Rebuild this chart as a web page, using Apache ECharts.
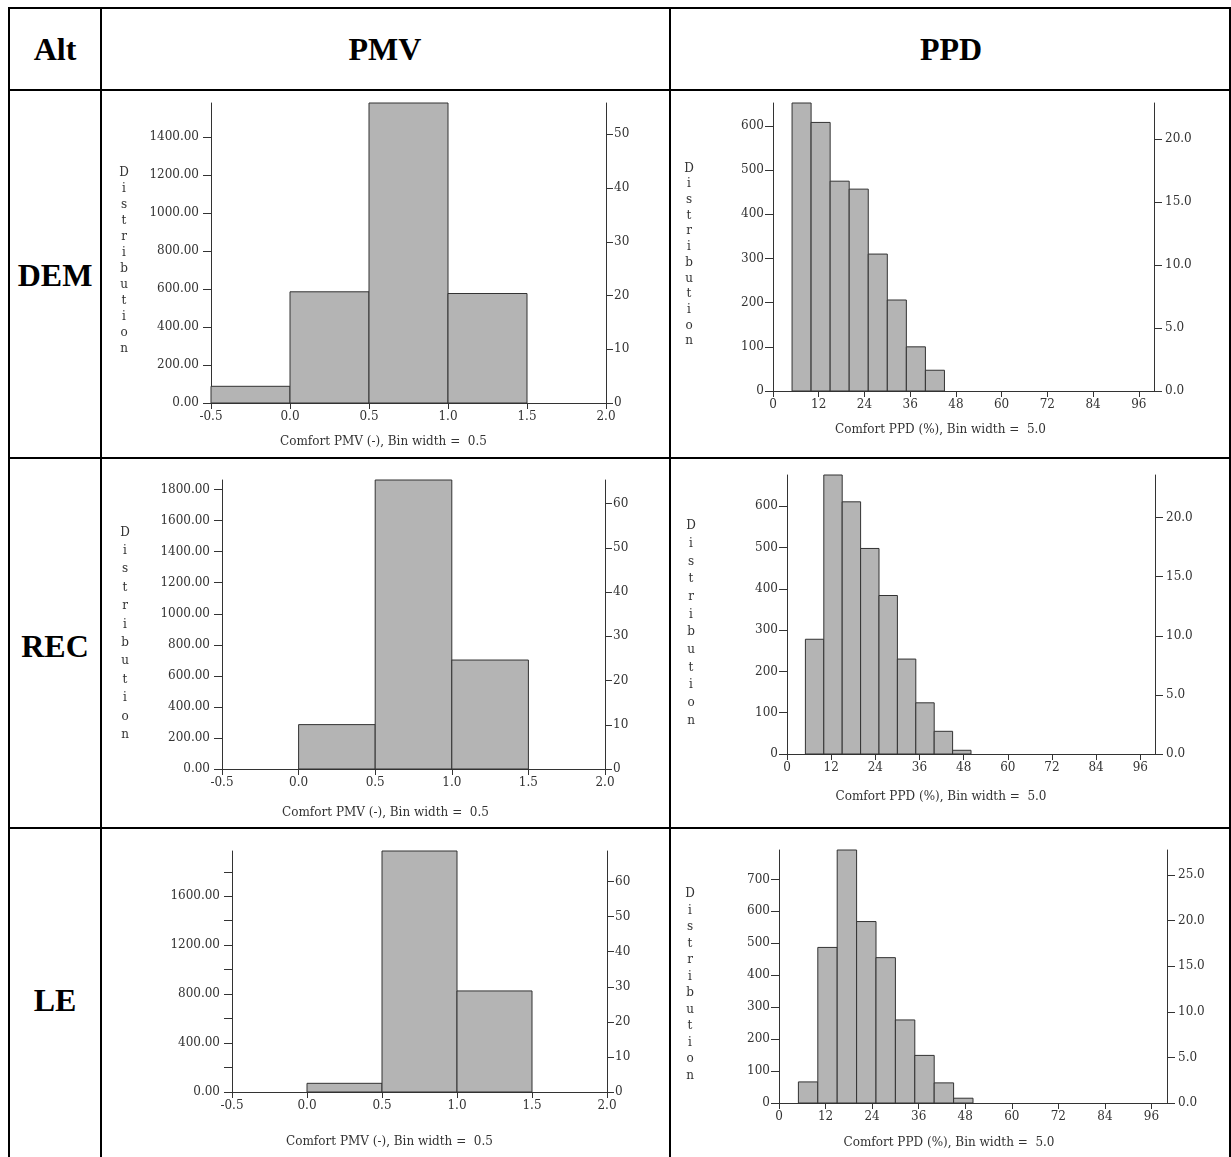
<!DOCTYPE html>
<html><head><meta charset="utf-8">
<script src="https://cdn.jsdelivr.net/npm/echarts@6/dist/echarts.min.js"></script>
<style>
html,body{margin:0;padding:0;background:#fff;}
#wrap{position:relative;width:1231px;height:1157px;overflow:hidden;background:#fff;}
#chart{position:absolute;left:0;top:0;width:1231px;height:1157px;}
.ln{position:absolute;background:#000;}
.t{position:absolute;font-family:"Liberation Serif","Times New Roman",serif;font-weight:bold;font-size:32px;color:#000;transform:translate(-50%,-50%);white-space:nowrap;line-height:1;}
</style></head>
<body><div id="wrap">
<div class="ln" style="left:8px;top:7px;width:1223px;height:2px"></div>
<div class="ln" style="left:8px;top:89px;width:1223px;height:2px"></div>
<div class="ln" style="left:8px;top:457px;width:1223px;height:2px"></div>
<div class="ln" style="left:8px;top:827px;width:1223px;height:2px"></div>
<div class="ln" style="left:8px;top:7px;width:1.5px;height:1150px"></div>
<div class="ln" style="left:100px;top:7px;width:1.5px;height:1150px"></div>
<div class="ln" style="left:669px;top:7px;width:1.5px;height:1150px"></div>
<div class="ln" style="left:1229px;top:7px;width:1.5px;height:1150px"></div>
<div class="t" style="left:55px;top:49px">Alt</div>
<div class="t" style="left:385px;top:49px">PMV</div>
<div class="t" style="left:951px;top:49px">PPD</div>
<div class="t" style="left:55px;top:275px">DEM</div>
<div class="t" style="left:55px;top:646px">REC</div>
<div class="t" style="left:55px;top:1000px">LE</div>
<div id="chart"></div>
</div>
<script>
// ---------- data ----------
const pmvBinEdges = [-0.5, 0.0, 0.5, 1.0, 1.5];
const ppdBinEdges = [5, 10, 15, 20, 25, 30, 35, 40, 45, 50];

const demPmvCounts = [88, 586, 1581, 577];
const recPmvCounts = [0, 286, 1862, 702];
const lePmvCounts  = [0, 71, 1970, 826];

const demPpdCounts = [652, 608, 475, 457, 310, 206, 100, 47, 0];
const recPpdCounts = [278, 676, 611, 498, 384, 230, 124, 55, 9];
const lePpdCounts  = [66, 487, 792, 568, 455, 260, 149, 63, 15];

const pmvXTicks = [-0.5, 0.0, 0.5, 1.0, 1.5, 2.0];
const ppdXTicks = [0, 12, 24, 36, 48, 60, 72, 84, 96];

const demPmvLeftTicks = [0, 200, 400, 600, 800, 1000, 1200, 1400];
const recPmvLeftTicks = [0, 200, 400, 600, 800, 1000, 1200, 1400, 1600, 1800];
const lePmvLeftTicks  = [0, 200, 400, 600, 800, 1000, 1200, 1400, 1600, 1800];
const lePmvLeftLabels = [0, 400, 800, 1200, 1600];
const demPmvRightTicks = [0, 10, 20, 30, 40, 50];
const recPmvRightTicks = [0, 10, 20, 30, 40, 50, 60];
const lePmvRightTicks  = [0, 10, 20, 30, 40, 50, 60];

const demPpdLeftTicks = [0, 100, 200, 300, 400, 500, 600];
const recPpdLeftTicks = [0, 100, 200, 300, 400, 500, 600];
const lePpdLeftTicks  = [0, 100, 200, 300, 400, 500, 600, 700];
const demPpdRightTicks = [0, 5, 10, 15, 20];
const recPpdRightTicks = [0, 5, 10, 15, 20];
const lePpdRightTicks  = [0, 5, 10, 15, 20, 25];

const pmvXTitle = 'Comfort PMV (-), Bin width =  0.5';
const ppdXTitle = 'Comfort PPD (%), Bin width =  5.0';
const yTitle = 'Distribution';

// ---------- layout / style ----------
const FONT = '"DejaVu Serif", "Liberation Serif", serif';
const panels = [
  {kind:'pmv', edges:pmvBinEdges, counts:demPmvCounts, xTicks:pmvXTicks, lTicks:demPmvLeftTicks, lLabels:demPmvLeftTicks, rTicks:demPmvRightTicks,
   grid:{left:211, top:103, width:395, height:300}, yGap:87, yLH:16, xGap:39, xShift:25, showY:true},
  {kind:'pmv', edges:pmvBinEdges, counts:recPmvCounts, xTicks:pmvXTicks, lTicks:recPmvLeftTicks, lLabels:recPmvLeftTicks, rTicks:recPmvRightTicks,
   grid:{left:222, top:480, width:383, height:289}, yGap:97, yLH:18.4, xGap:44, xShift:28, showY:true},
  {kind:'pmv', edges:pmvBinEdges, counts:lePmvCounts, xTicks:pmvXTicks, lTicks:lePmvLeftTicks, lLabels:lePmvLeftLabels, rTicks:lePmvRightTicks,
   grid:{left:232, top:851, width:375, height:241}, yGap:100, yLH:16, xGap:50, xShift:30, showY:false},
  {kind:'ppd', edges:ppdBinEdges, counts:demPpdCounts, xTicks:ppdXTicks, lTicks:demPpdLeftTicks, lLabels:demPpdLeftTicks, rTicks:demPpdRightTicks,
   grid:{left:773, top:103, width:381, height:288}, yGap:84, yLH:15.7, xGap:39, xShift:23, showY:true},
  {kind:'ppd', edges:ppdBinEdges, counts:recPpdCounts, xTicks:ppdXTicks, lTicks:recPpdLeftTicks, lLabels:recPpdLeftTicks, rTicks:recPpdRightTicks,
   grid:{left:787, top:475, width:368, height:279}, yGap:96, yLH:17.7, xGap:43, xShift:30, showY:true},
  {kind:'ppd', edges:ppdBinEdges, counts:lePpdCounts, xTicks:ppdXTicks, lTicks:lePpdLeftTicks, lLabels:lePpdLeftTicks, rTicks:lePpdRightTicks,
   grid:{left:779, top:850, width:388, height:253}, yGap:89, yLH:16.5, xGap:40, xShift:24, showY:true}
];

const grids = [], xAxes = [], yAxes = [], series = [];
const txt = {fontFamily: FONT, fontSize: 12, color: '#333'};
const lineSt = {color: '#333', width: 1};

function renderBin(params, api) {
  const p0 = api.coord([api.value(0), 0]);
  const p1 = api.coord([api.value(1), api.value(2)]);
  return {type: 'rect',
    shape: {x: p0[0], y: p1[1], width: p1[0] - p0[0], height: p0[1] - p1[1]},
    style: {fill: '#b4b4b4', stroke: '#333', lineWidth: 1}};
}

panels.forEach((p, i) => {
  const isPmv = p.kind === 'pmv';
  const total = p.counts.reduce((a, b) => a + b, 0);
  const maxC = Math.max.apply(null, p.counts);
  grids.push(Object.assign({containLabel: false}, p.grid));
  xAxes.push({
    type: 'value', gridIndex: i,
    min: isPmv ? -0.5 : 0, max: isPmv ? 2.0 : 100,
    axisLine: {show: true, onZero: false, lineStyle: lineSt},
    axisTick: {show: true, length: 6, lineStyle: lineSt, customValues: p.xTicks},
    axisLabel: {margin: 8, customValues: p.xTicks, ...txt,
      formatter: v => isPmv ? v.toFixed(1) : String(Math.round(v))},
    splitLine: {show: false},
    name: isPmv ? pmvXTitle : ppdXTitle, nameLocation: 'middle', nameGap: p.xGap,
    nameTextStyle: {...txt, align: 'center', verticalAlign: 'middle', padding: [0, p.xShift * 2, 0, 0]}
  });
  yAxes.push({
    type: 'value', gridIndex: i, position: 'left', min: 0, max: maxC,
    axisLine: {show: true, onZero: false, lineStyle: lineSt},
    axisTick: {show: true, length: 8, lineStyle: lineSt, customValues: p.lTicks},
    axisLabel: {margin: isPmv ? 12 : 9, customValues: p.lLabels, ...txt,
      formatter: v => isPmv ? v.toFixed(2) : String(Math.round(v))},
    splitLine: {show: false},
    name: p.showY ? ' \n' + yTitle.split('').join('\n') : '', nameLocation: 'middle', nameGap: p.yGap, nameRotate: 0,
    nameTextStyle: {...txt, align: 'center', verticalAlign: 'middle', lineHeight: p.yLH}
  });
  yAxes.push({
    type: 'value', gridIndex: i, position: 'right', min: 0, max: maxC / total * 100,
    axisLine: {show: true, onZero: false, lineStyle: lineSt},
    axisTick: {show: true, length: isPmv ? 7 : 8, lineStyle: lineSt, customValues: p.rTicks},
    axisLabel: {margin: isPmv ? 8 : 11, customValues: p.rTicks, ...txt,
      formatter: v => isPmv ? String(Math.round(v)) : v.toFixed(1)},
    splitLine: {show: false}
  });
  const data = [];
  p.counts.forEach((c, k) => { if (c > 0) data.push([p.edges[k], p.edges[k + 1], c]); });
  series.push({
    type: 'custom', xAxisIndex: i, yAxisIndex: i * 2, renderItem: renderBin,
    encode: {x: [0, 1], y: 2}, data: data, silent: true, clip: false
  });
});

const chart = echarts.init(document.getElementById('chart'), null, {renderer: 'canvas'});
chart.setOption({
  animation: false,
  backgroundColor: 'transparent',
  grid: grids, xAxis: xAxes, yAxis: yAxes, series: series
});
</script>
</body></html>
